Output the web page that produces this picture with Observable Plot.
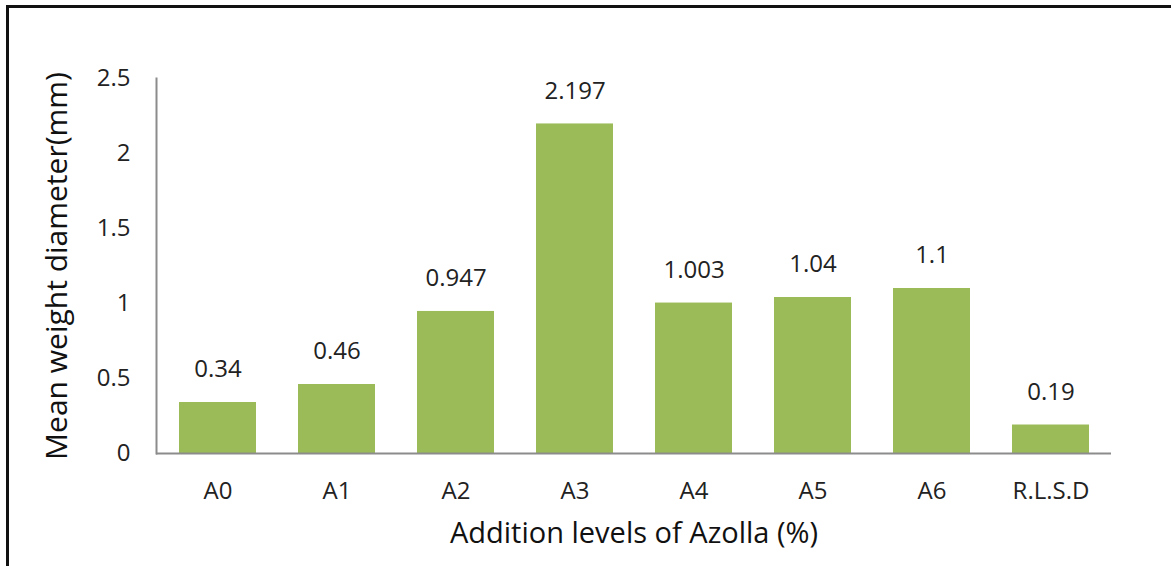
<!DOCTYPE html>
<html><head><meta charset="utf-8">
<script src="https://cdn.jsdelivr.net/npm/d3@7"></script>
<script src="https://cdn.jsdelivr.net/npm/@observablehq/plot@0.6"></script>
<style>
body{margin:0;background:#fff;}
#wrap{position:relative;width:1171px;height:566px;overflow:hidden;}
#frame{position:absolute;left:6px;top:5px;right:-10px;bottom:-10px;border-left:3px solid #111;border-top:3px solid #111;pointer-events:none;}
#chart svg{display:block;}
</style></head><body><div id="wrap"><div id="chart"></div><div id="frame"></div></div>
<script>
const categories = ["A0","A1","A2","A3","A4","A5","A6","R.L.S.D"];
const values = [0.34,0.46,0.947,2.197,1.003,1.04,1.1,0.19];
const valueLabels = ["0.34","0.46","0.947","2.197","1.003","1.04","1.1","0.19"];
const yTicks = [0,0.5,1,1.5,2,2.5];
const yTickLabels = ["0","0.5","1","1.5","2","2.5"];
const xTitle = "Addition levels of Azolla (%)";
const yTitle = "Mean weight diameter(mm)";
const data = categories.map((c,i)=>({cat:c, value:values[i], label:valueLabels[i]}));
const chart = Plot.plot({
  width:1171, height:566, marginLeft:156, marginRight:60, marginTop:78, marginBottom:113,
  style:{fontFamily:"'Open Sans', sans-serif", background:"transparent", color:"#222"},
  x:{domain:categories, paddingInner:0.355, paddingOuter:0.18},
  y:{domain:[0,2.5]},
  marks:[
    Plot.barY(data,{x:"cat", y:"value", fill:"#9BBB59"}),
    Plot.frame({anchor:"left", stroke:"#8c8c8c", strokeWidth:2}),
    Plot.ruleY([0],{stroke:"#8c8c8c", strokeWidth:2}),
    Plot.axisY({ticks:yTicks, tickFormat:(d)=>yTickLabels[yTicks.indexOf(d)], tickSize:0, tickPadding:26, fontSize:24, label:null}),
    Plot.axisX({tickSize:0, tickPadding:28, fontSize:24, label:null}),
    Plot.text(data,{x:"cat", y:"value", text:"label", dy:-33, fontSize:24, fill:"#222"}),
    Plot.text([yTitle],{frameAnchor:"left", textAnchor:"middle", rotate:-90, dx:-99, fontSize:30, fill:"#111"}),
    Plot.text([xTitle],{frameAnchor:"bottom", dy:89, fontSize:29, fill:"#111"})
  ]
});
document.getElementById("chart").appendChild(chart);
</script></body></html>
